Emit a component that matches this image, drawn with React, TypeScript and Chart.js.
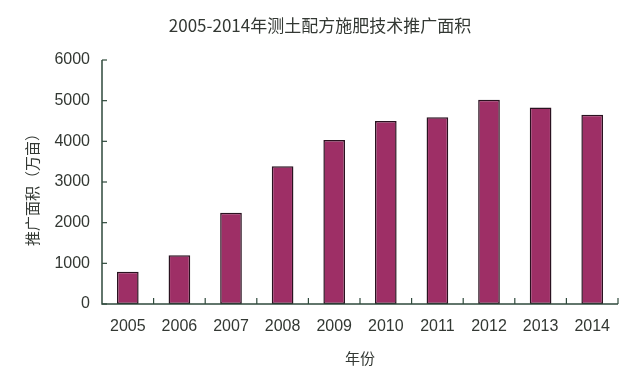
import React, { useEffect, useRef } from "react";
import { Chart, registerables } from "chart.js";

Chart.register(...registerables);

const TITLE = "2005-2014年测土配方施肥技术推广面积";
const X_TITLE = "年份";
const Y_TITLE = "推广面积（万亩）";
const years = ["2005", "2006", "2007", "2008", "2009", "2010", "2011", "2012", "2013", "2014"];
const areas = [790, 1200, 2245, 3390, 4030, 4500, 4590, 5020, 4835, 4655];
const Y_MIN = 0;
const Y_MAX = 6000;
const Y_STEP = 1000;

const AXIS_COLOR = "#2f4a3c";
const TEXT_COLOR = "#333833";
const FONT = "'Liberation Sans', Arial, sans-serif";
const CJK_FONT = "'Noto Sans CJK SC', sans-serif";

const decorPlugin = {
  id: "decor",
  afterDraw(chart: any) {
    const ctx = chart.ctx as CanvasRenderingContext2D;
    const { left, right, top, bottom } = chart.chartArea;
    const xs = chart.scales.x;
    const ys = chart.scales.y;
    ctx.save();
    ctx.strokeStyle = AXIS_COLOR;
    ctx.lineWidth = 1.5;
    ctx.beginPath();
    ctx.moveTo(left, top);
    ctx.lineTo(left, bottom);
    ctx.lineTo(right, bottom);
    ctx.stroke();
    // y ticks (inside)
    ctx.lineWidth = 1.2;
    for (let v = Y_MIN; v <= Y_MAX; v += Y_STEP) {
      const y = ys.getPixelForValue(v);
      ctx.beginPath();
      ctx.moveTo(left, y);
      ctx.lineTo(left + 5, y);
      ctx.stroke();
    }
    // x ticks at category boundaries (inside)
    for (let i = 0; i < years.length; i++) {
      const a = xs.getPixelForValue(i);
      const b = i + 1 < years.length ? xs.getPixelForValue(i + 1) : a + (a - xs.getPixelForValue(i - 1));
      const x = (a + b) / 2;
      ctx.beginPath();
      ctx.moveTo(x, bottom);
      ctx.lineTo(x, bottom - 6);
      ctx.stroke();
    }
    // titles
    ctx.fillStyle = TEXT_COLOR;
    ctx.textAlign = "center";
    ctx.textBaseline = "middle";
    ctx.font = `17px ${CJK_FONT}`;
    ctx.fillText(TITLE, 320, 26);
    ctx.font = `15px ${CJK_FONT}`;
    ctx.fillText(X_TITLE, (left + right) / 2, 358);
    ctx.translate(32, 186);
    ctx.rotate(-Math.PI / 2);
    ctx.fillText(Y_TITLE, 0, 0);
    ctx.restore();
  },
};

export default function App() {
  const ref = useRef<HTMLCanvasElement | null>(null);
  useEffect(() => {
    if (!ref.current) return;
    const chart = new Chart(ref.current, {
      type: "bar",
      data: {
        labels: years,
        datasets: [
          {
            data: areas,
            backgroundColor: "#9e2f66",
            borderColor: "#2a1220",
            borderWidth: 1.5,
            borderSkipped: false,
            barPercentage: 0.42,
            categoryPercentage: 1,
          },
        ],
      },
      options: {
        animation: false,
        responsive: false,
        maintainAspectRatio: false,
        layout: { padding: { left: 0, right: 22, top: 60, bottom: 0 } },
        plugins: {
          legend: { display: false },
          title: { display: false },
          tooltip: { enabled: false },
        },
        scales: {
          x: {
            grid: { display: false, drawTicks: false },
            border: { display: false },
            ticks: {
              color: TEXT_COLOR,
              font: { family: FONT, size: 16 },
              padding: 13,
              maxRotation: 0,
            },
            afterFit(scale: any) {
              scale.height = 63;
            },
          },
          y: {
            min: Y_MIN,
            max: Y_MAX,
            grid: { display: false, drawTicks: false },
            border: { display: false },
            ticks: {
              stepSize: Y_STEP,
              color: TEXT_COLOR,
              font: { family: FONT, size: 16 },
              padding: 12,
              callback: (v: any) => String(v),
            },
            afterFit(scale: any) {
              scale.width = 102;
            },
          },
        },
      },
      plugins: [decorPlugin],
    });
    return () => chart.destroy();
  }, []);
  return (
    <div style={{ position: "fixed", left: 0, top: 0, width: 640, height: 367, background: "#fff" }}>
      <canvas ref={ref} width={640} height={367} style={{ display: "block" }} />
    </div>
  );
}
